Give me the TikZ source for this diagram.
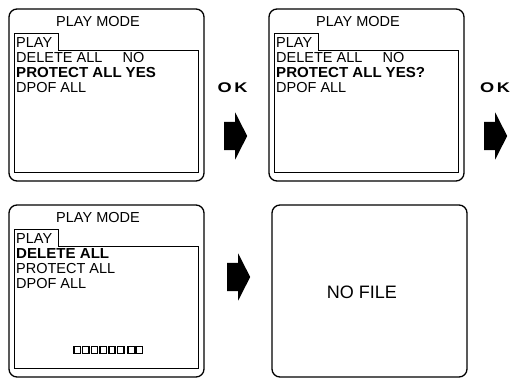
\documentclass[tikz,border=0pt]{standalone}
\usepackage{fontspec}
\setmainfont{Liberation Sans}
\usepackage{graphicx}
\usetikzlibrary{shapes.arrows}
\newcommand\boldentry[1]{\scalebox{1.04}[1]{\bfseries #1}}

\begin{document}
\begin{tikzpicture}[x=1pt,y=-1pt,font=\fontsize{14.5}{16}\selectfont]
  \tikzstyle{screen}=[draw,line width=1.3pt,rounded corners=8pt,
    minimum width=195pt,minimum height=172pt,inner sep=0pt]
  \tikzstyle{frame}=[draw,line width=1pt]
  \tikzstyle{item}=[inner sep=0pt,anchor=base west]
  \tikzstyle{title}=[inner sep=0pt,anchor=base]
  \tikzstyle{okarrow}=[single arrow,fill=black,inner xsep=0pt,inner ysep=14pt,
    minimum height=23pt,single arrow head extend=9.5pt,
    single arrow tip angle=126,anchor=tail]
  \tikzstyle{oklabel}=[inner sep=0pt,
    font=\fontsize{14}{14}\bfseries\selectfont]
  \tikzstyle{glyph}=[draw,line width=1.4pt]

  \useasboundingbox (0,0) rectangle (519,378);

  % screen 1
  \node[screen] (screen1) at (106.5,95) {};
  \draw[frame] (14,33) -- (58,33) -- (58,50) -- (198,50) -- (198,172.5) -- (14,172.5) -- cycle;
  \node[title] (title1) at (98,26.5) {PLAY MODE};
  \node[item] (tab1) at (16,47) {PLAY};
  \node[item] (del1) at (16,62.5) {DELETE ALL};
  \node[item] (no1) at (122.5,62.5) {NO};
  \node[item] (prot1) at (16,77.5) {\boldentry{PROTECT ALL}};
  \node[item] (yes1) at (125.5,77.5) {\boldentry{YES}};
  \node[item] (dpof1) at (16,92.5) {DPOF ALL};

  \node[oklabel] (ok1) at (232.5,88) {\scalebox{1.3}[1]{O\hspace{2pt}K}};
  \node[okarrow] (go1) at (224,136) {};

  % screen 2
  \node[screen] (screen2) at (366.5,95) {};
  \draw[frame] (274,33) -- (318,33) -- (318,50) -- (458,50) -- (458,172.5) -- (274,172.5) -- cycle;
  \node[title] (title2) at (358,26.5) {PLAY MODE};
  \node[item] (tab2) at (276,47) {PLAY};
  \node[item] (del2) at (276,62.5) {DELETE ALL};
  \node[item] (no2) at (382.5,62.5) {NO};
  \node[item] (prot2) at (276,77.5) {\boldentry{PROTECT ALL}};
  \node[item] (yes2) at (385.5,77.5) {\boldentry{YES?}};
  \node[item] (dpof2) at (276,92.5) {DPOF ALL};

  \node[oklabel] (ok2) at (495,88) {\scalebox{1.3}[1]{O\hspace{2pt}K}};
  \node[okarrow] (go2) at (484,136) {};

  % screen 3
  \node[screen] (screen3) at (106.5,291) {};
  \draw[frame] (14,229) -- (58,229) -- (58,246) -- (198,246) -- (198,368.5) -- (14,368.5) -- cycle;
  \node[title] (title3) at (98,222.5) {PLAY MODE};
  \node[item] (tab3) at (16,243) {PLAY};
  \node[item] (del3) at (16,258.5) {\boldentry{DELETE ALL}};
  \node[item] (prot3) at (16,273.5) {PROTECT ALL};
  \node[item] (dpof3) at (16,288.5) {DPOF ALL};
  \foreach \i in {0,...,5}
    \draw[glyph] (74+8.7*\i,346.5) rectangle +(6.3,7);
  \foreach \i in {0,1}
    \draw[glyph] (128+8*\i,346.5) rectangle +(6.3,7);

  \node[okarrow] (go3) at (227,277) {};

  % screen 4
  \node[screen] (screen4) at (369.5,291) {};
  \node[inner sep=0pt,font=\fontsize{18}{20}\selectfont] (nofile) at (362,292.5) {NO FILE};
\end{tikzpicture}
\end{document}
